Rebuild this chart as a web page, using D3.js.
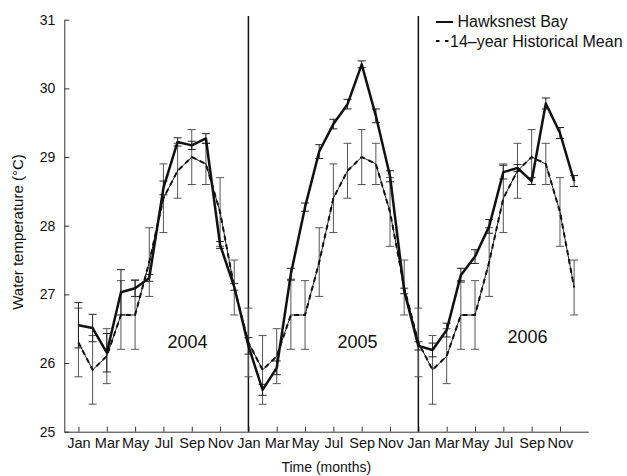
<!DOCTYPE html>
<html lang="en">
<head>
<meta charset="utf-8">
<style>
    body { margin: 0; background: #fff; }
    svg text { font-family: "Liberation Sans", Arial, Helvetica, sans-serif; fill: #111; }
</style>
</head>
<body>
<svg id="chart" width="627" height="476"></svg>
<script src="https://cdn.jsdelivr.net/npm/d3@7"></script>
<script>

    // tick labels, every second month
    var monthLabels = ["Jan", "Mar", "May", "Jul", "Sep", "Nov"];
    var years = ["2004", "2005", "2006"];
    var yTicks = [25, 26, 27, 28, 29, 30, 31];

    // hawksnest bay, monthly, jan 2004 .. dec 2006
    var hawksnest = [
        26.55, 26.51, 26.15, 27.03, 27.09, 27.24, 28.55, 29.22, 29.17, 29.27, 27.72, 27.11,
        26.25, 25.61, 25.93, 27.30, 28.27, 29.08, 29.48, 29.77, 30.35, 29.60, 28.72, 27.05,
        26.25, 26.19, 26.48, 27.28, 27.55, 27.99, 28.78, 28.84, 28.65, 29.78, 29.35, 28.65
    ];
    var hawksnestErr = [
        0.33, 0.20, 0.28, 0.33, 0.12, 0.05, 0.10, 0.06, 0.06, 0.07, 0.05, 0.05,
        0.12, 0.08, 0.10, 0.08, 0.06, 0.10, 0.07, 0.07, 0.05, 0.10, 0.08, 0.04,
        0.06, 0.10, 0.10, 0.10, 0.10, 0.10, 0.10, 0.05, 0.05, 0.08, 0.08, 0.08
    ];

    // 14-year historical mean, jan .. dec (same every year)
    var histMean = [26.3, 25.9, 26.1, 26.7, 26.7, 27.47, 28.4, 28.8, 29.0, 28.9, 28.2, 27.1];
    var histErr = [0.5, 0.5, 0.4, 0.5, 0.5, 0.5, 0.5, 0.4, 0.4, 0.3, 0.5, 0.4];

    var svg = d3.select("#chart");

    var x = d3.scaleLinear().domain([-1, 36]).range([64.3, 588.3]);
    var y = d3.scaleLinear().domain([25, 31]).range([431.7, 19.7]);

    // build the two series as points
    var hawkPts = hawksnest.map(function (v, i) {
        return {i: i, v: v, e: hawksnestErr[i]};
    });
    var meanPts = [];
    years.forEach(function (yr, k) {
        histMean.forEach(function (v, m) {
            meanPts.push({i: k * 12 + m, v: v, e: histErr[m]});
        });
    });

    // axes
    var tickIdx = d3.range(0, 36, 2);
    var xAxis = d3.axisBottom(x)
        .tickValues(tickIdx)
        .tickFormat(function (d) { return monthLabels[(d % 12) / 2]; })
        .tickSizeInner(-5).tickSizeOuter(0).tickPadding(6);
    var yAxis = d3.axisLeft(y)
        .tickValues(yTicks)
        .tickFormat(d3.format("d"))
        .tickSizeInner(-5).tickSizeOuter(0).tickPadding(9);

    var gx = svg.append("g").attr("transform", "translate(0," + y(25) + ")").call(xAxis);
    var gy = svg.append("g").attr("transform", "translate(" + x(-1) + ",0)").call(yAxis);
    [gx, gy].forEach(function (g) {
        g.selectAll("path, line").attr("stroke", "#333");
        g.selectAll("text").attr("font-size", "14px").attr("fill", "#111")
            .style("font-family", "'Liberation Sans', Arial, sans-serif");
    });
    gx.selectAll("text").attr("font-size", "14.5px");

    // year dividers
    svg.selectAll(".divider")
        .data([12, 24])
        .enter()
        .append("line")
        .attr("x1", function (d) { return x(d); })
        .attr("x2", function (d) { return x(d); })
        .attr("y1", 16)
        .attr("y2", y(25))
        .attr("stroke", "#111")
        .attr("stroke-width", 1.5);

    // error bars
    var capW = 4;
    var drawErr = function (pts, color, cls) {
        var g = svg.append("g").attr("class", cls).attr("stroke", color).attr("stroke-width", 1);
        pts.forEach(function (d) {
            var cx = x(d.i), top = y(d.v + d.e), bot = y(d.v - d.e);
            g.append("line").attr("x1", cx).attr("x2", cx).attr("y1", top).attr("y2", bot);
            g.append("line").attr("x1", cx - capW).attr("x2", cx + capW).attr("y1", top).attr("y2", top);
            g.append("line").attr("x1", cx - capW).attr("x2", cx + capW).attr("y1", bot).attr("y2", bot);
        });
    };
    drawErr(meanPts, "#555", "err-mean");
    drawErr(hawkPts, "#222", "err-hawk");

    var line = d3.line()
        .x(function (d) { return x(d.i); })
        .y(function (d) { return y(d.v); });

    // historical mean: thin line with heavier dashes on top
    svg.append("path")
        .attr("d", line(meanPts))
        .attr("fill", "none")
        .attr("stroke", "#222")
        .attr("stroke-width", 1);
    svg.append("path")
        .attr("d", line(meanPts))
        .attr("fill", "none")
        .attr("stroke", "#111")
        .attr("stroke-width", 2)
        .attr("stroke-dasharray", "5,4");

    // hawksnest bay
    svg.append("path")
        .attr("d", line(hawkPts))
        .attr("fill", "none")
        .attr("stroke", "#111")
        .attr("stroke-width", 2.5)
        .attr("stroke-linejoin", "round");

    // year labels
    var yearLabelY = [26.22, 26.22, 26.29];
    svg.selectAll(".year")
        .data(years)
        .enter()
        .append("text")
        .attr("class", "year")
        .attr("x", function (d, k) { return x(k * 12 + 7.7); })
        .attr("y", function (d, k) { return y(yearLabelY[k]); })
        .attr("text-anchor", "middle")
        .attr("font-size", "18px")
        .text(function (d) { return d; });

    // axis titles
    svg.append("text")
        .attr("x", x(17.5))
        .attr("y", 472)
        .attr("text-anchor", "middle")
        .attr("font-size", "14px")
        .text("Time (months)");
    svg.append("text")
        .attr("transform", "translate(23,232) rotate(-90)")
        .attr("text-anchor", "middle")
        .attr("font-size", "15px")
        .text("Water temperature (\u00B0C)");

    // legend
    var lg = svg.append("g");
    lg.append("line").attr("x1", 436).attr("x2", 453).attr("y1", 22).attr("y2", 22)
        .attr("stroke", "#111").attr("stroke-width", 2);
    lg.append("text").attr("x", 457.5).attr("y", 27).attr("font-size", "16px").text("Hawksnest Bay");
    lg.append("line").attr("x1", 436).attr("x2", 449).attr("y1", 41).attr("y2", 41)
        .attr("stroke", "#111").attr("stroke-width", 2).attr("stroke-dasharray", "3.5,5.5");
    lg.append("text").attr("x", 450).attr("y", 47).attr("font-size", "16px").text("14\u2013year Historical Mean");

</script>
</body>
</html>
